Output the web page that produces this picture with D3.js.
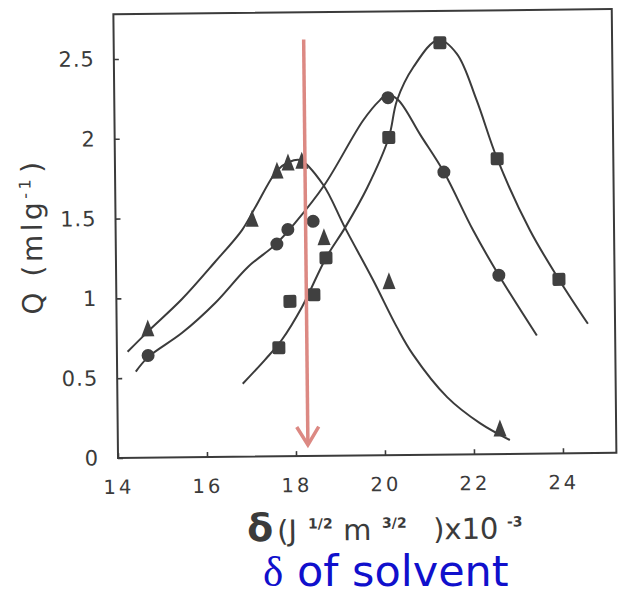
<!DOCTYPE html>
<html>
<head>
<meta charset="utf-8">
<script src="https://cdn.jsdelivr.net/npm/d3@7"></script>
<style>
  html, body { margin: 0; padding: 0; background: #fff; }
  svg { display: block; }
</style>
</head>
<body>
<div id="chart"></div>
<script>
// tick values / labels
const xTickValues = [14, 16, 18, 20, 22, 24];
const yTickValues = [0, 0.5, 1, 1.5, 2, 2.5];
const yTickLabels = ["0", "0.5", "1", "1.5", "2", "2.5"];

// measured points
const triangleX = [14.70, 17.07, 17.64, 17.89, 18.20, 18.68, 20.13, 22.59];
const triangleY = [0.81, 1.49, 1.79, 1.84, 1.85, 1.37, 1.09, 0.16];
const circleX = [14.70, 17.62, 17.87, 18.44, 20.15, 21.39, 22.60];
const circleY = [0.64, 1.33, 1.42, 1.47, 2.24, 1.77, 1.12];
const squareX = [17.64, 17.90, 18.44, 18.72, 20.16, 21.33, 22.59, 23.95];
const squareY = [0.68, 0.97, 1.01, 1.24, 1.99, 2.58, 1.85, 1.09];

// hand-drawn fit curves
const triangleCurveX = [14.24, 14.70, 15.47, 16.22, 16.84, 17.14, 17.64, 17.89, 18.16, 18.67, 19.15, 19.77, 20.30, 20.65, 21.41, 22.14, 22.81];
const triangleCurveY = [0.665, 0.79, 0.99, 1.22, 1.42, 1.56, 1.79, 1.84, 1.855, 1.70, 1.43, 1.10, 0.80, 0.63, 0.36, 0.195, 0.087];
const circleCurveX = [14.42, 14.70, 15.47, 16.22, 16.97, 17.58, 18.03, 18.71, 19.59, 19.97, 20.14, 20.38, 20.88, 21.39, 22.03, 22.60, 23.44];
const circleCurveY = [0.54, 0.63, 0.78, 0.965, 1.19, 1.325, 1.46, 1.70, 2.10, 2.225, 2.26, 2.225, 2.00, 1.77, 1.405, 1.12, 0.74];
const squareCurveX = [16.82, 17.33, 17.71, 18.17, 18.72, 19.16, 19.66, 20.16, 20.35, 20.73, 21.30, 21.71, 22.14, 22.59, 23.31, 23.95, 24.59];
const squareCurveY = [0.457, 0.607, 0.73, 0.934, 1.24, 1.43, 1.675, 1.99, 2.22, 2.43, 2.60, 2.51, 2.22, 1.85, 1.40, 1.09, 0.81];

// red marker arrow (x value, from / to y value)
const arrowX = 18.27;
const arrowY = [2.61, 0.07];

const width = 618;
const height = 591;
const ink = "#3b3b3b";

const svg = d3.select("#chart")
  .append("svg")
    .attr("width", width)
    .attr("height", height)
    .attr("viewBox", `0 0 ${width} ${height}`);

const x = d3.scaleLinear().domain([14, 25.2]).range([115.7, 614.1]);
const y = d3.scaleLinear().domain([0, 2.78]).range([455.4, 11.7]);

// the scanned figure is slightly rotated
const g = svg.append("g").attr("transform", "rotate(-0.6, 365, 235)");

g.append("rect")
  .attr("x", x(14))
  .attr("y", y(2.78))
  .attr("width", x(25.2) - x(14))
  .attr("height", y(0) - y(2.78))
  .attr("fill", "none")
  .attr("stroke", ink)
  .attr("stroke-width", 2);

const yAxis = g.append("g")
  .attr("transform", `translate(${x(14)},0)`)
  .call(d3.axisLeft(y).tickValues(yTickValues).tickSize(-5).tickPadding(19)
    .tickFormat((d, i) => yTickLabels[i]));
yAxis.select(".domain").remove();
yAxis.selectAll("line").attr("stroke", ink).attr("stroke-width", 1.6);
yAxis.selectAll("text")
  .attr("fill", ink)
  .style("font-family", "DejaVu Sans")
  .style("font-size", "21px")
  .style("letter-spacing", "1px");

const xAxis = g.append("g")
  .attr("transform", `translate(0,${y(0)})`)
  .call(d3.axisBottom(x).tickValues(xTickValues).tickSize(-5).tickPadding(22)
    .tickFormat(d3.format("d")));
xAxis.select(".domain").remove();
xAxis.selectAll("line").attr("stroke", ink).attr("stroke-width", 1.6);
xAxis.selectAll("text")
  .attr("fill", ink)
  .style("font-family", "DejaVu Sans")
  .style("font-size", "19.5px")
  .style("letter-spacing", "3px");

// fit curves
const line = d3.line()
  .x(d => x(d[0]))
  .y(d => y(d[1]))
  .curve(d3.curveCatmullRom.alpha(0.5));

[[triangleCurveX, triangleCurveY], [circleCurveX, circleCurveY], [squareCurveX, squareCurveY]]
  .forEach(([xs, ys]) => {
    g.append("path")
      .datum(d3.zip(xs, ys))
      .attr("d", line)
      .attr("fill", "none")
      .attr("stroke", ink)
      .attr("stroke-width", 2);
  });

// markers
const marks = g.append("g").attr("fill", "#404040");

marks.selectAll(".tri")
  .data(d3.zip(triangleX, triangleY))
  .join("path")
    .attr("class", "tri")
    .attr("transform", d => `translate(${x(d[0])},${y(d[1])})`)
    .attr("d", "M0,-9 L6.5,8 L-6.5,8 Z");

marks.selectAll(".dot")
  .data(d3.zip(circleX, circleY))
  .join("circle")
    .attr("class", "dot")
    .attr("cx", d => x(d[0]))
    .attr("cy", d => y(d[1]))
    .attr("r", 6.5);

marks.selectAll(".sq")
  .data(d3.zip(squareX, squareY))
  .join("rect")
    .attr("class", "sq")
    .attr("x", d => x(d[0]) - 6.5)
    .attr("y", d => y(d[1]) - 6.5)
    .attr("width", 13)
    .attr("height", 13)
    .attr("rx", 2);

// red arrow
const red = "#dc8983";
const ax = x(arrowX), ay0 = y(arrowY[0]), ay1 = y(arrowY[1]);
const arrow = g.append("g")
  .attr("stroke", red)
  .attr("stroke-width", 3.5)
  .attr("fill", "none");
arrow.append("line")
  .attr("x1", ax).attr("y1", ay0)
  .attr("x2", ax).attr("y2", ay1 - 1);
arrow.append("path")
  .attr("stroke-linejoin", "miter")
  .attr("d", `M${ax - 11},${ay1 - 18} L${ax},${ay1} L${ax + 11},${ay1 - 18}`);

// axis titles
g.append("text")
  .attr("transform", "translate(42,233) rotate(-90)")
  .attr("text-anchor", "middle")
  .attr("fill", ink)
  .style("font-family", "DejaVu Sans")
  .style("font-size", "28px")
  .style("letter-spacing", "3.5px")
  .call(t => {
    t.append("tspan").text("Q (mlg");
    t.append("tspan").attr("dy", -11).style("font-size", "16px").text("-1");
    t.append("tspan").attr("dy", 11).attr("dx", 3).text(")");
  });

const xt = g.append("text")
  .attr("y", 540)
  .attr("fill", ink)
  .style("font-family", "DejaVu Sans")
  .style("font-size", "29px");
const sup = { "font-size": "14px", "font-weight": "bold" };
[
  { t: "δ", x: 244, dy: 0, s: { "font-size": "38px", "font-weight": "bold" } },
  { t: "(J", x: 274, dy: 0 },
  { t: "1/2", x: 305, dy: -12, s: sup },
  { t: "m", x: 340, dy: 12 },
  { t: "3/2", x: 379, dy: -12, s: sup },
  { t: ")x10", x: 430, dy: 12 },
  { t: "-3", x: 504, dy: -12, s: sup }
].forEach(p => {
  const ts = xt.append("tspan").attr("x", p.x).attr("dy", p.dy).text(p.t);
  Object.entries(p.s || {}).forEach(([k, v]) => ts.style(k, v));
});

// slide caption
const cap = svg.append("text")
  .attr("x", 263)
  .attr("y", 586)
  .attr("fill", "#1010cc")
  .style("font-family", "DejaVu Sans")
  .style("font-size", "43px");
cap.append("tspan").style("font-family", "Liberation Serif").text("δ");
cap.append("tspan").text(" of solvent");
</script>
</body>
</html>
